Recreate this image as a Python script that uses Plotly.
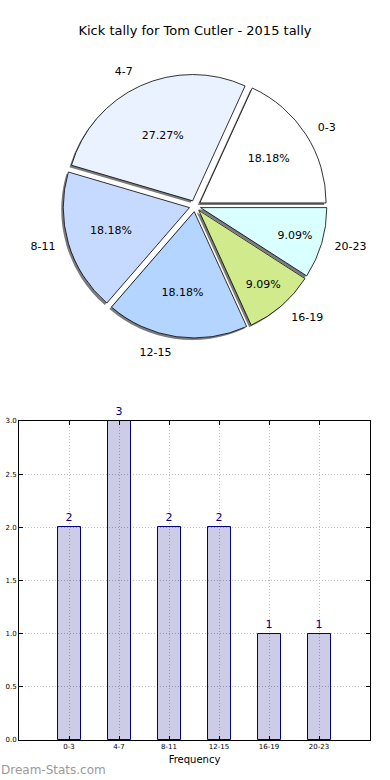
import plotly.graph_objects as go

categories = ["0-3", "4-7", "8-11", "12-15", "16-19", "20-23"]
counts = [2, 3, 2, 2, 1, 1]
pie_colors = ["#FFFFFF", "#EAF1FF", "#C6DAFF", "#B4D5FF", "#D0EA8C", "#D9FFFF"]
y_ticks = [0.0, 0.5, 1.0, 1.5, 2.0, 2.5, 3.0]

W, H = 390, 780
FONT = "DejaVu Sans"

pull = [0.045] * len(categories)
# first slice starts at 3 o'clock and runs counterclockwise
rot = 90 - 360.0 * counts[0] / sum(counts)

# pie geometry (pixels)
cx, cy, R = 195, 206, 132
def dom(cx, cy, R):
    return dict(x=[(cx - R) / W, (cx + R) / W], y=[1 - (cy + R) / H, 1 - (cy - R) / H])

fig = go.Figure()

# shadow
fig.add_trace(go.Pie(
    labels=categories, values=counts, sort=False, direction="counterclockwise",
    rotation=rot, pull=pull, domain=dom(cx - 2, cy + 2, R),
    marker=dict(colors=["rgba(100,100,100,0.85)"] * len(categories), line=dict(width=0)),
    textinfo="none", hoverinfo="skip", showlegend=False,
))
# main pie with percentages
fig.add_trace(go.Pie(
    labels=categories, values=counts, sort=False, direction="counterclockwise",
    rotation=rot, pull=pull, domain=dom(cx, cy, R),
    marker=dict(colors=pie_colors, line=dict(color="black", width=0.8)),
    texttemplate="%{percent:.2%}", textposition="inside", insidetextorientation="horizontal",
    textfont=dict(family=FONT, size=11, color="black"), showlegend=False,
))
# outside labels (on a slightly larger invisible ring)
fig.add_trace(go.Pie(
    labels=categories, values=counts, sort=False, direction="counterclockwise",
    rotation=rot, pull=pull, domain=dom(cx, cy, R + 10),
    marker=dict(colors=["rgba(0,0,0,0)"] * len(categories), line=dict(width=0)),
    textinfo="label", textposition="outside",
    textfont=dict(family=FONT, size=11, color="black"), hoverinfo="skip", showlegend=False,
))

fig.add_trace(go.Bar(
    x=categories, y=counts, width=0.46,
    marker=dict(color="rgba(0,0,128,0.2)", line=dict(color="#000080", width=1)),
    text=[str(c) for c in counts], textposition="outside", cliponaxis=False,
    textfont=dict(family=FONT, size=11, color="#000080"),
    showlegend=False, xaxis="x", yaxis="y",
))

axis_common = dict(
    showline=True, linecolor="black", linewidth=1, mirror="ticks",
    ticks="inside", ticklen=4, tickcolor="black",
    showgrid=True, gridcolor="#bdbdbd", griddash="1px,2px", gridwidth=1,
    tickfont=dict(family=FONT, size=7, color="black"), zeroline=False,
)

fig.update_layout(
    width=W, height=H, margin=dict(l=0, r=0, t=0, b=0, autoexpand=False),
    paper_bgcolor="white", plot_bgcolor="white",
    font=dict(family=FONT, color="black"),
    title=dict(text="Kick tally for Tom Cutler - 2015 tally", x=0.5, xanchor="center",
               y=1 - 30 / H, yanchor="middle", font=dict(family=FONT, size=13, color="black")),
    xaxis=dict(domain=[19 / W, 370 / W], anchor="y", range=[-1, 6.02],
               title=dict(text="Frequency", font=dict(family=FONT, size=10), standoff=5),
               **axis_common),
    yaxis=dict(domain=[1 - 740 / H, 1 - 421 / H], anchor="x", range=[0, 3.0],
               tickvals=y_ticks, tickformat=".1f", **axis_common),
    bargap=0,
    annotations=[dict(text="Dream-Stats.com", xref="paper", yref="paper", x=-0.003, y=1 - 770 / H,
                      xanchor="left", yanchor="middle", showarrow=False,
                      font=dict(family=FONT, size=12, color="#9a9a9a"))],
)

fig.write_html("out.html", config={"displayModeBar": False},
               post_script="document.body.style.margin='0';document.body.style.overflow='hidden';")
